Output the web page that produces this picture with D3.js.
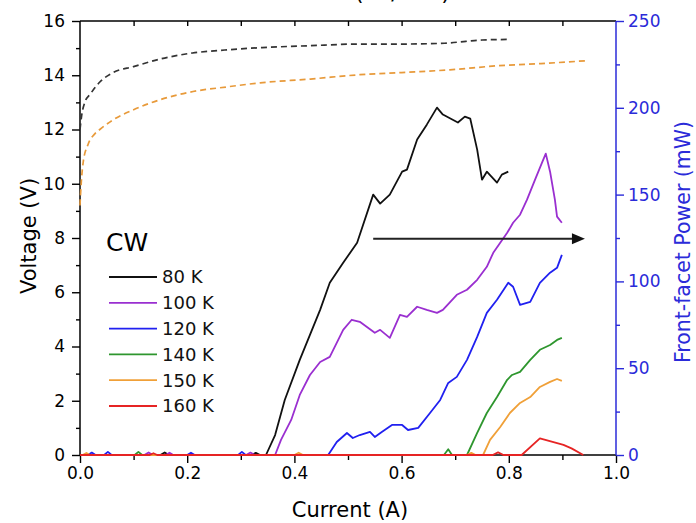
<!DOCTYPE html>
<html><head><meta charset="utf-8">
<script src="https://cdn.jsdelivr.net/npm/d3@7"></script>
<style>
body{margin:0;background:#fff}
text{font-family:"DejaVu Sans",sans-serif}
</style>
</head><body>
<svg id="chart" width="696" height="523"></svg>
<script>
// Voltage (dashed, left axis)
const vCurrent80 = [0, 0.003, 0.009, 0.019, 0.037, 0.062, 0.1, 0.15, 0.21, 0.27, 0.34, 0.43, 0.52, 0.6, 0.68, 0.72, 0.75, 0.8];
const vVolt80    = [12.0, 12.5, 13.0, 13.3, 13.75, 14.1, 14.32, 14.6, 14.82, 14.93, 15.02, 15.09, 15.15, 15.15, 15.18, 15.25, 15.3, 15.32];
const vCurrent150 = [0, 0.001, 0.006, 0.015, 0.028, 0.037, 0.062, 0.1, 0.15, 0.211, 0.274, 0.336, 0.43, 0.522, 0.6, 0.69, 0.78, 0.86, 0.948];
const vVolt150    = [9.2, 9.6, 10.8, 11.45, 11.85, 12.0, 12.36, 12.73, 13.1, 13.4, 13.57, 13.72, 13.86, 14.02, 14.1, 14.2, 14.35, 14.43, 14.54];

// Front-facet power (solid, right axis)
const pCurrent80 = [0, 0.15, 0.158, 0.166, 0.32, 0.328, 0.336, 0.347, 0.364, 0.382, 0.41, 0.429, 0.448, 0.466, 0.491, 0.517, 0.547, 0.56, 0.578, 0.601, 0.61, 0.629, 0.647, 0.666, 0.677, 0.705, 0.718, 0.728, 0.741, 0.75, 0.759, 0.778, 0.787, 0.799];
const pPower80   = [0, 0, 1.5, 0, 0, 1.2, 0, 0, 11.5, 31.7, 54.8, 69.2, 83.6, 99.2, 110.7, 122.3, 150, 144.8, 150, 163.2, 164.4, 181.7, 190.3, 200.1, 196.1, 191.5, 194.9, 193.8, 175.9, 158.6, 163.2, 156.9, 161.5, 163.2];
const pCurrent100 = [0, 0.12, 0.128, 0.136, 0.16, 0.167, 0.174, 0.31, 0.318, 0.326, 0.364, 0.375, 0.394, 0.41, 0.429, 0.448, 0.466, 0.491, 0.507, 0.522, 0.55, 0.56, 0.578, 0.597, 0.61, 0.629, 0.647, 0.666, 0.677, 0.703, 0.722, 0.741, 0.759, 0.771, 0.784, 0.797, 0.808, 0.821, 0.834, 0.849, 0.862, 0.869, 0.877, 0.886, 0.89, 0.899];
const pPower100   = [0, 0, 1.5, 0, 0, 1.3, 0, 0, 1.4, 0, 0, 8.7, 20.2, 34.6, 46.1, 53.6, 56.5, 72.1, 77.9, 76.7, 70.4, 72.1, 67.5, 80.7, 79.6, 85.4, 83.6, 81.9, 83.6, 92.3, 95.2, 100.9, 108.4, 116.5, 122.3, 128, 133.8, 138.4, 147.1, 158.6, 168.4, 173.6, 163.2, 147.1, 137.3, 133.8];
const pCurrent120 = [0, 0.015, 0.022, 0.029, 0.045, 0.052, 0.059, 0.2, 0.207, 0.214, 0.295, 0.302, 0.309, 0.463, 0.479, 0.498, 0.509, 0.522, 0.541, 0.55, 0.563, 0.582, 0.601, 0.612, 0.631, 0.653, 0.672, 0.687, 0.703, 0.722, 0.741, 0.759, 0.778, 0.799, 0.808, 0.821, 0.84, 0.858, 0.877, 0.89, 0.899];
const pPower120   = [0, 0, 1.4, 0, 0, 1.8, 0, 0, 1.3, 0, 0, 1.8, 0, 0, 7.5, 12.7, 9.8, 11.5, 13.3, 10.4, 13.3, 17.3, 17.3, 14.4, 15.6, 24.2, 31.7, 41.5, 45, 54.8, 68, 81.9, 89.4, 99.2, 96.9, 86.5, 88.2, 99.2, 105, 107.8, 115.3];
const pCurrent140 = [0, 0.102, 0.109, 0.116, 0.679, 0.687, 0.694, 0.722, 0.741, 0.759, 0.778, 0.797, 0.806, 0.821, 0.84, 0.858, 0.877, 0.89, 0.899];
const pPower140   = [0, 0, 1.8, 0, 0, 3.3, 0, 0, 12.7, 24.2, 33.4, 43.3, 46.1, 47.9, 54.8, 60.6, 63.4, 66.3, 67.5];
const pCurrent150 = [0, 0.005, 0.012, 0.019, 0.4, 0.408, 0.416, 0.722, 0.73, 0.738, 0.752, 0.765, 0.784, 0.802, 0.821, 0.84, 0.858, 0.877, 0.89, 0.899];
const pPower150   = [0, 0, 1.2, 0, 0, 1.3, 0, 0, 1.2, 0, 0, 8.7, 16.1, 24.2, 30, 33.4, 39.2, 42.1, 43.8, 42.7];
const pCurrent160 = [0, 0.13, 0.137, 0.144, 0.77, 0.78, 0.79, 0.824, 0.858, 0.902, 0.917, 0.939];
const pPower160   = [0, 0, 1.0, 0, 0, 1.5, 0, 0, 9.6, 5.8, 3.8, 0];

const seriesLabels = ["80 K", "100 K", "120 K", "140 K", "150 K", "160 K"];
const seriesColors = ["#111111", "#9a2fd0", "#2020f0", "#2e962e", "#f0a038", "#e62424"];

const xTicksMajor = [0, 0.2, 0.4, 0.6, 0.8, 1.0];
const xTicksMinor = [0.1, 0.3, 0.5, 0.7, 0.9];
const xTicksTop = [0.1, 0.2, 0.3, 0.4, 0.5, 0.6, 0.7, 0.8, 0.9];
const vTicksMajor = [0, 2, 4, 6, 8, 10, 12, 14, 16];
const vTicksMinor = [1, 3, 5, 7, 9, 11, 13, 15];
const pTicksMajor = [0, 50, 100, 150, 200, 250];
const pTicksMinor = [25, 75, 125, 175, 225];

// arrow marking the power curves belong to the right axis: [current, voltage]
const arrowFrom = [0.547, 7.97];
const arrowTo = [0.942, 7.97];

const blue = "#2b2bd9";
const svg = d3.select("#chart");
const L = 80, R = 616, T = 21, B = 455;
const x = d3.scaleLinear([0, 1], [L, R]);
const yV = d3.scaleLinear([0, 16], [B, T]);
const yP = d3.scaleLinear([0, 250], [B, T]);

function styleAxis(g, color) {
  g.select(".domain").remove();
  g.selectAll("line").attr("stroke", color).attr("stroke-width", 1.4);
  g.selectAll("text").attr("fill", color).style("font-size", "17px").style("font-family", '"DejaVu Sans",sans-serif');
}

// bottom axis
svg.append("g").attr("transform", `translate(0,${B})`)
  .call(d3.axisBottom(x).tickValues(xTicksMajor).tickSize(8).tickPadding(4).tickFormat(d3.format(".1f")))
  .call(g => styleAxis(g, "#000"));
svg.append("g").attr("transform", `translate(0,${B})`)
  .call(d3.axisBottom(x).tickValues(xTicksMinor).tickSize(5).tickFormat(""))
  .call(g => styleAxis(g, "#000"));
// top axis (inward ticks)
svg.append("g").attr("transform", `translate(0,${T})`)
  .call(d3.axisTop(x).tickValues(xTicksTop).tickSize(-5).tickFormat(""))
  .call(g => styleAxis(g, "#000"));
// left axis
svg.append("g").attr("transform", `translate(${L},0)`)
  .call(d3.axisLeft(yV).tickValues(vTicksMajor).tickSize(8).tickPadding(7).tickFormat(d3.format("d")))
  .call(g => styleAxis(g, "#000"));
svg.append("g").attr("transform", `translate(${L},0)`)
  .call(d3.axisLeft(yV).tickValues(vTicksMinor).tickSize(4).tickFormat(""))
  .call(g => styleAxis(g, "#000"));
// right axis
svg.append("g").attr("transform", `translate(${R},0)`)
  .call(d3.axisRight(yP).tickValues(pTicksMajor).tickSize(8).tickPadding(4).tickFormat(d3.format("d")))
  .call(g => styleAxis(g, blue));
svg.append("g").attr("transform", `translate(${R},0)`)
  .call(d3.axisRight(yP).tickValues(pTicksMinor).tickSize(4).tickFormat(""))
  .call(g => styleAxis(g, blue));

// frame
svg.append("line").attr("x1", L).attr("x2", R).attr("y1", T).attr("y2", T).attr("stroke", "#000").attr("stroke-width", 1.5);
svg.append("line").attr("x1", L).attr("x2", R).attr("y1", B).attr("y2", B).attr("stroke", "#000").attr("stroke-width", 1.5);
svg.append("line").attr("x1", L).attr("x2", L).attr("y1", T).attr("y2", B).attr("stroke", "#000").attr("stroke-width", 1.5);
svg.append("line").attr("x1", R).attr("x2", R).attr("y1", T).attr("y2", B).attr("stroke", blue).attr("stroke-width", 1.5);

// voltage curves
const vLine = d3.line().x(d => x(d[0])).y(d => yV(d[1])).curve(d3.curveMonotoneX);
[[vCurrent80, vVolt80, "#333333"], [vCurrent150, vVolt150, "#e89a3a"]].forEach(([cs, vs, col]) => {
  svg.append("path").datum(cs.map((c, i) => [c, vs[i]]))
    .attr("d", vLine).attr("fill", "none").attr("stroke", col)
    .attr("stroke-width", 1.7).attr("stroke-dasharray", "6,4");
});

// power curves
const pLine = d3.line().x(d => x(d[0])).y(d => yP(d[1]));
const powerSets = [[pCurrent80, pPower80], [pCurrent100, pPower100], [pCurrent120, pPower120],
                   [pCurrent140, pPower140], [pCurrent150, pPower150], [pCurrent160, pPower160]];
powerSets.forEach(([cs, ps], k) => {
  svg.append("path").datum(cs.map((c, i) => [c, ps[i]]))
    .attr("d", pLine).attr("fill", "none").attr("stroke", seriesColors[k])
    .attr("stroke-width", 1.8).attr("stroke-linejoin", "round");
});

// arrow
const ax1 = x(arrowFrom[0]), ay = yV(arrowFrom[1]), ax2 = x(arrowTo[0]);
svg.append("line").attr("x1", ax1).attr("x2", ax2 - 10).attr("y1", ay).attr("y2", ay)
  .attr("stroke", "#222").attr("stroke-width", 2);
svg.append("path").attr("d", `M${ax2},${ay} L${ax2 - 13},${ay - 5.5} L${ax2 - 13},${ay + 5.5} Z`).attr("fill", "#111");

// legend
svg.append("text").attr("x", 106).attr("y", 251).text("CW").style("font-size", "25px").attr("fill", "#000");
seriesLabels.forEach((lab, i) => {
  const yy = 277 + i * 25.8;
  svg.append("line").attr("x1", 109).attr("x2", 157).attr("y1", yy).attr("y2", yy)
    .attr("stroke", seriesColors[i]).attr("stroke-width", 1.8);
  svg.append("text").attr("x", 162).attr("y", yy).attr("dy", "0.36em").text(lab)
    .style("font-size", "18px").attr("fill", "#111");
});

// axis titles
svg.append("text").attr("x", (L + R) / 2 + 2).attr("y", 517).attr("text-anchor", "middle")
  .style("font-size", "21px").attr("fill", "#000").text("Current (A)");
svg.append("text").attr("transform", "translate(36,236) rotate(-90)").attr("text-anchor", "middle")
  .style("font-size", "21px").attr("fill", "#000").text("Voltage (V)");
svg.append("text").attr("transform", "translate(690,242) rotate(-90)").attr("text-anchor", "middle")
  .style("font-size", "20.5px").attr("fill", blue).text("Front-facet Power (mW)");
svg.append("text").attr("x", 355).attr("y", 0).style("font-size", "22px").attr("fill", "#000").text("(kA/cm²)");
</script>
</body></html>
